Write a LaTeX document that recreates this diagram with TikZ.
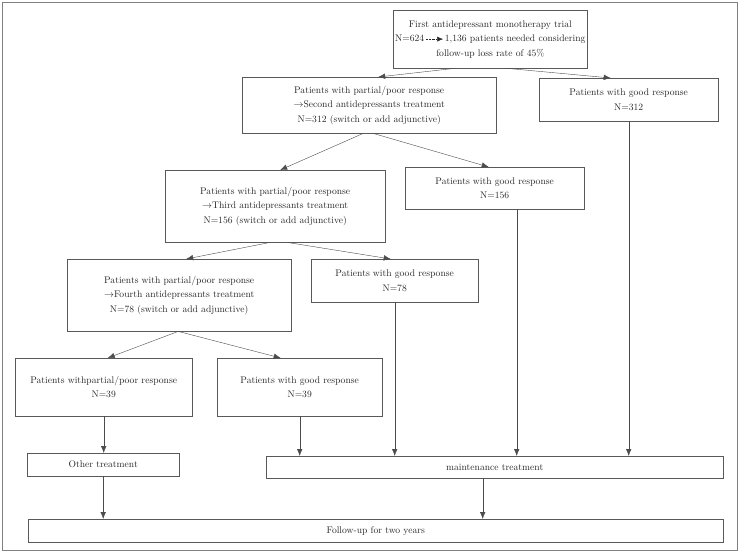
\documentclass[tikz,border=0pt]{standalone}
\usepackage{amsmath,amssymb}
\usepackage{tikz}
\usetikzlibrary{arrows,arrows.meta,positioning,calc}

\begin{document}
\begin{tikzpicture}[x=1pt, y=-1pt, >={Latex[length=7pt,width=5.5pt]}, font=\fontsize{9.6}{14.5}\selectfont]
    \tikzstyle{box} = [draw=black!65, rectangle, anchor=north west, align=center, inner sep=2pt, text=black!85]
    \tikzstyle{flow} = [->, draw=black!70]

    \useasboundingbox (0,0) rectangle (739,553);
    \draw [black!50, line width=0.8pt] (2,2) rectangle (737,550);

    % first trial and second step
    \node [box, minimum width=193pt, minimum height=58pt] (first) at (393,10) {First antidepressant monotherapy trial\\N=624\,\tikz[baseline=-0.6ex]\draw[densely dotted, -{Latex[length=6pt,width=5pt]}] (0pt,0pt) -- (17pt,0pt);\,1,136 patients needed considering\\follow-up loss rate of 45\%};
    \node [box, minimum width=254pt, minimum height=56pt] (part2) at (242,77) {Patients with partial/poor response\\$\rightarrow$Second antidepressants treatment\\N=312 (switch or add adjunctive)};
    \node [box, minimum width=179pt, minimum height=43pt] (good2) at (539,78) {Patients with good response\\N=312};

    % third step
    \node [box, minimum width=220pt, minimum height=72pt] (part3) at (165,170) {Patients with partial/poor response\\$\rightarrow$Third antidepressants treatment\\N=156 (switch or add adjunctive)};
    \node [box, minimum width=179pt, minimum height=42pt] (good3) at (405,167) {Patients with good response\\N=156};

    % fourth step
    \node [box, minimum width=224pt, minimum height=72pt] (part4) at (67,259) {Patients with partial/poor response\\$\rightarrow$Fourth antidepressants treatment\\N=78 (switch or add adjunctive)};
    \node [box, minimum width=167pt, minimum height=43pt] (good4) at (311,259) {Patients with good response\\N=78};

    \node [box, minimum width=177pt, minimum height=58pt] (part5) at (15,358) {Patients withpartial/poor response\\N=39};
    \node [box, minimum width=165pt, minimum height=58pt] (good5) at (217,358) {Patients with good response\\N=39};

    % treatment and follow-up
    \node [box, minimum width=152pt, minimum height=23pt] (other) at (27,453) {Other treatment};
    \node [box, minimum width=457pt, minimum height=22pt] (maint) at (266,456) {maintenance treatment};
    \node [box, minimum width=695pt, minimum height=23pt] (follow) at (28,519) {Follow-up for two years};

    \draw [flow] ([xshift=-36pt]first.south) -- ([xshift=9pt]part2.north);
    \draw [flow] ([xshift=17pt]first.south) -- ([xshift=-18pt]good2.north);
    \draw [flow] ([xshift=-6pt]part2.south) -- ([xshift=5pt]part3.north);
    \draw [flow] ([xshift=4pt]part2.south) -- ([xshift=-6pt]good3.north);
    \draw [flow] ([xshift=-5pt]part3.south) -- ([xshift=7pt]part4.north);
    \draw [flow] ([xshift=12pt]part3.south) -- ([xshift=-4pt]good4.north);
    \draw [flow] ([xshift=-1pt]part4.south) -- ([xshift=4pt]part5.north);
    \draw [flow] ([xshift=-1pt]part4.south) -- ([xshift=-19pt]good5.north);

    \draw [flow] (part5.south) -- (part5.south |- other.north);
    \draw [flow] (good5.south) -- (good5.south |- maint.north);
    \draw [flow] (good4.south) -- (good4.south |- maint.north);
    \draw [flow] ([xshift=22pt]good3.south) -- ([xshift=22pt]good3.south |- maint.north);
    \draw [flow] (good2.south) -- (good2.south |- maint.north);
    \draw [flow] (other.south) -- (other.south |- follow.north);
    \draw [flow] ([xshift=-12pt]maint.south) -- ([xshift=-12pt]maint.south |- follow.north);
\end{tikzpicture}
\end{document}
